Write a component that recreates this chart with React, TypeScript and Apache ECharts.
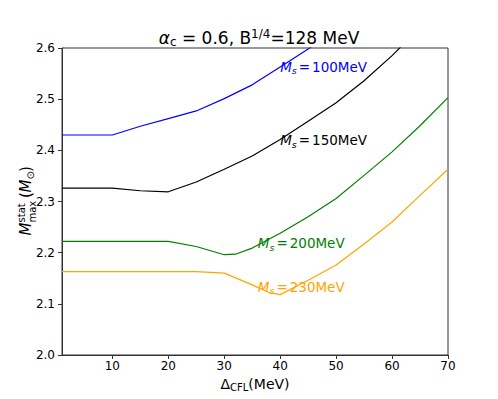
import React, { useEffect, useRef } from "react";
import * as echarts from "echarts";

// ---- data ----
const xTicks = [10, 20, 30, 40, 50, 60, 70];

const blueX = [1, 10, 15, 20, 25, 30, 35, 40, 45, 50];
const blueY = [2.43, 2.43, 2.447, 2.462, 2.477, 2.501, 2.528, 2.563, 2.598, 2.64];

const blackX = [1, 10, 15, 20, 25, 30, 35, 40, 45, 50, 55, 60, 65];
const blackY = [2.326, 2.326, 2.321, 2.319, 2.338, 2.363, 2.389, 2.421, 2.457, 2.493, 2.536, 2.585, 2.64];

const greenX = [1, 10, 20, 25, 30, 32, 35, 40, 45, 50, 55, 60, 65, 70];
const greenY = [2.222, 2.222, 2.222, 2.212, 2.196, 2.197, 2.209, 2.238, 2.27, 2.306, 2.351, 2.397, 2.448, 2.503];

const orangeX = [1, 10, 20, 25, 30, 35, 38, 40, 45, 50, 55, 60, 65, 70];
const orangeY = [2.163, 2.163, 2.163, 2.163, 2.16, 2.137, 2.122, 2.118, 2.146, 2.176, 2.217, 2.26, 2.312, 2.363];

const msValues = ["100", "150", "200", "230"];
const labelX = [40, 40, 36, 36];
const labelY = [2.563, 2.42, 2.218, 2.133];

const FONT = "DejaVu Sans";

function pairs(xs: number[], ys: number[]) {
  return xs.map((x, i) => [x, ys[i]]);
}

const richLabel = (color: string) => ({
  i: { fontFamily: FONT, fontSize: 13.5, fontStyle: "italic", color, lineHeight: 18, verticalAlign: "middle" },
  s: { fontFamily: FONT, fontSize: 9.5, fontStyle: "italic", color, lineHeight: 10, verticalAlign: "bottom" },
  e: { fontFamily: FONT, fontSize: 13.5, color, lineHeight: 18, verticalAlign: "middle", padding: [0, 2, 0, 2] },
  n: { fontFamily: FONT, fontSize: 13.5, color, lineHeight: 18, verticalAlign: "middle" },
});

function makeSeries(xs: number[], ys: number[], color: string, idx: number) {
  return {
    type: "line",
    data: pairs(xs, ys),
    symbol: "none",
    silent: true,
    clip: true,
    lineStyle: { color, width: 1.2 },
    itemStyle: { color },
    markPoint: {
      symbol: "circle",
      symbolSize: 0,
      silent: true,
      itemStyle: { color: "transparent" },
      label: {
        show: true,
        position: "right",
        distance: 0,
        formatter: "{i|M}{s|s}{e|=}{n|" + msValues[idx] + "MeV}",
        rich: richLabel(color),
      },
      data: [{ coord: [labelX[idx], labelY[idx]] }],
    },
  };
}

export default function App() {
  const ref = useRef<HTMLDivElement>(null);
  useEffect(() => {
    if (!ref.current) return;
    const chart = echarts.init(ref.current, undefined, { renderer: "svg" });
    const cx = 25.5;
    const cy = 203;
    const option: any = {
      animation: false,
      backgroundColor: "#ffffff",
      grid: { left: 62, top: 48, right: 50, bottom: 44, show: true, borderColor: "#333", borderWidth: 1, backgroundColor: "transparent" },
      title: {
        text: "{a|α}{s|c}{n| = 0.6, B}{p|1/4}{n|=128 MeV}",
        left: 254,
        textAlign: "center",
        top: 23,
        textStyle: {
          fontWeight: "normal",
          rich: {
            a: { fontFamily: FONT, fontSize: 17, fontStyle: "italic", fontWeight: "normal", color: "#000", lineHeight: 20, verticalAlign: "middle" },
            n: { fontFamily: FONT, fontSize: 17, fontWeight: "normal", color: "#000", lineHeight: 20, verticalAlign: "middle" },
            s: { fontFamily: FONT, fontSize: 12, fontWeight: "normal", color: "#000", lineHeight: 12, verticalAlign: "bottom" },
            p: { fontFamily: FONT, fontSize: 12, fontWeight: "normal", color: "#000", lineHeight: 12, verticalAlign: "top" },
          },
        },
      },
      xAxis: {
        type: "value",
        min: 1,
        max: 70,
        name: "{n|Δ}{s|CFL}{n|(MeV)}",
        nameLocation: "middle",
        nameGap: 13,
        nameTextStyle: {
          rich: {
            n: { fontFamily: FONT, fontSize: 14, color: "#000", lineHeight: 18, verticalAlign: "middle" },
            s: { fontFamily: FONT, fontSize: 10, color: "#000", lineHeight: 10, verticalAlign: "bottom" },
          },
        },
        axisLine: { show: true, lineStyle: { color: "#333", width: 1 } },
        axisTick: { show: true, length: 4, customValues: xTicks, lineStyle: { color: "#333" } },
        axisLabel: { customValues: xTicks, fontFamily: FONT, fontSize: 12, color: "#000", margin: 5 },
        splitLine: { show: false },
      },
      yAxis: {
        type: "value",
        min: 2.0,
        max: 2.6,
        interval: 0.1,
        axisLine: { show: true, lineStyle: { color: "#333", width: 1 } },
        axisTick: { show: true, length: 4, lineStyle: { color: "#333" } },
        axisLabel: {
          fontFamily: FONT,
          fontSize: 12,
          color: "#000",
          margin: 7,
          formatter: (v: number) => v.toFixed(1),
        },
        splitLine: { show: false },
      },
      graphic: [
        {
          type: "group",
          x: cx,
          y: cy,
          rotation: Math.PI / 2,
          silent: true,
          children: [
            { type: "text", x: -32.5, y: 0, style: { text: "M", font: "italic 15px 'DejaVu Sans'", fill: "#000", verticalAlign: "middle", align: "left" } },
            { type: "text", x: -19.5, y: -4.5, style: { text: "stat", font: "10px 'DejaVu Sans'", fill: "#000", verticalAlign: "middle", align: "left" } },
            { type: "text", x: -19.5, y: 6.5, style: { text: "max", font: "10px 'DejaVu Sans'", fill: "#000", verticalAlign: "middle", align: "left" } },
            { type: "text", x: 5, y: 0, style: { text: "(", font: "15px 'DejaVu Sans'", fill: "#000", verticalAlign: "middle", align: "left" } },
            { type: "text", x: 10.5, y: 0, style: { text: "M", font: "italic 15px 'DejaVu Sans'", fill: "#000", verticalAlign: "middle", align: "left" } },
            { type: "text", x: 23.5, y: 5, style: { text: "⊙", font: "10px 'DejaVu Sans'", fill: "#000", verticalAlign: "middle", align: "left" } },
            { type: "text", x: 31, y: 0, style: { text: ")", font: "15px 'DejaVu Sans'", fill: "#000", verticalAlign: "middle", align: "left" } },
          ],
        },
      ],
      series: [
        makeSeries(blueX, blueY, "#0000ff", 0),
        makeSeries(blackX, blackY, "#000000", 1),
        makeSeries(greenX, greenY, "#008000", 2),
        makeSeries(orangeX, orangeY, "#ffa500", 3),
      ],
    };
    chart.setOption(option);
    return () => chart.dispose();
  }, []);
  return (
    <div
      ref={ref}
      style={{ position: "fixed", left: 0, top: 0, width: 498, height: 399, background: "#fff" }}
    />
  );
}
